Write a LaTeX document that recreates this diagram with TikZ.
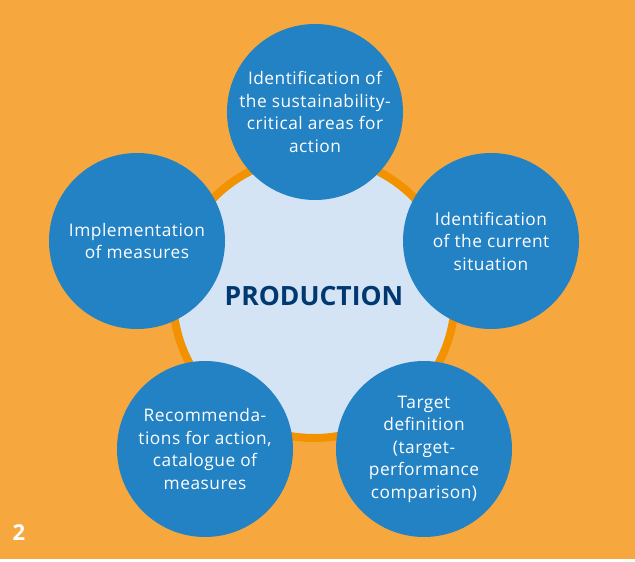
\documentclass[tikz,border=0pt]{standalone}
\usepackage{fontspec}
\setmainfont{Open Sans}
\newfontfamily\stepfont[LetterSpace=3]{Open Sans}
\definecolor{bgorange}{HTML}{F6A83E}
\definecolor{ringorange}{HTML}{F39200}
\definecolor{stepblue}{HTML}{2382C4}
\definecolor{lightblue}{HTML}{D4E4F5}
\definecolor{darkblue}{HTML}{003870}
\begin{document}
\begin{tikzpicture}[x=1bp,y=-1bp,
  stepcircle/.style={circle, fill=stepblue, minimum size=176bp, inner sep=0pt,
    text=white, align=center, font=\stepfont\fontsize{17.3bp}{22.5bp}\selectfont},
  hub/.style={circle, fill=lightblue, draw=ringorange, line width=8bp,
    minimum size=282bp, inner sep=0pt}]
\useasboundingbox (0,0) rectangle (635,562);
\fill[white] (0,0) rectangle (635,562);
\fill[bgorange] (0,0) rectangle (635,559);
\node[hub] (center) at (314,297) {};
\node[text=darkblue, font=\fontsize{26.5bp}{30bp}\selectfont\bfseries] (title) at (314,296) {PRODUCTION};
\node[stepcircle] (c1) at (315,112) {Identification of\\the sustainability-\\critical areas for\\action};
\node[stepcircle] (c2) at (491,241) {Identification\\of the current\\situation};
\node[stepcircle] (c3) at (424,449) {Target\\definition\\(target-\\performance\\comparison)};
\node[stepcircle] (c4) at (205,449) {Recommenda-\\tions for action,\\catalogue of\\measures};
\node[stepcircle] (c5) at (137,241) {Implementation\\of measures};
\node[text=white, font=\fontsize{22bp}{24bp}\selectfont\bfseries, anchor=center] (num) at (19,533) {2};
\end{tikzpicture}
\end{document}
